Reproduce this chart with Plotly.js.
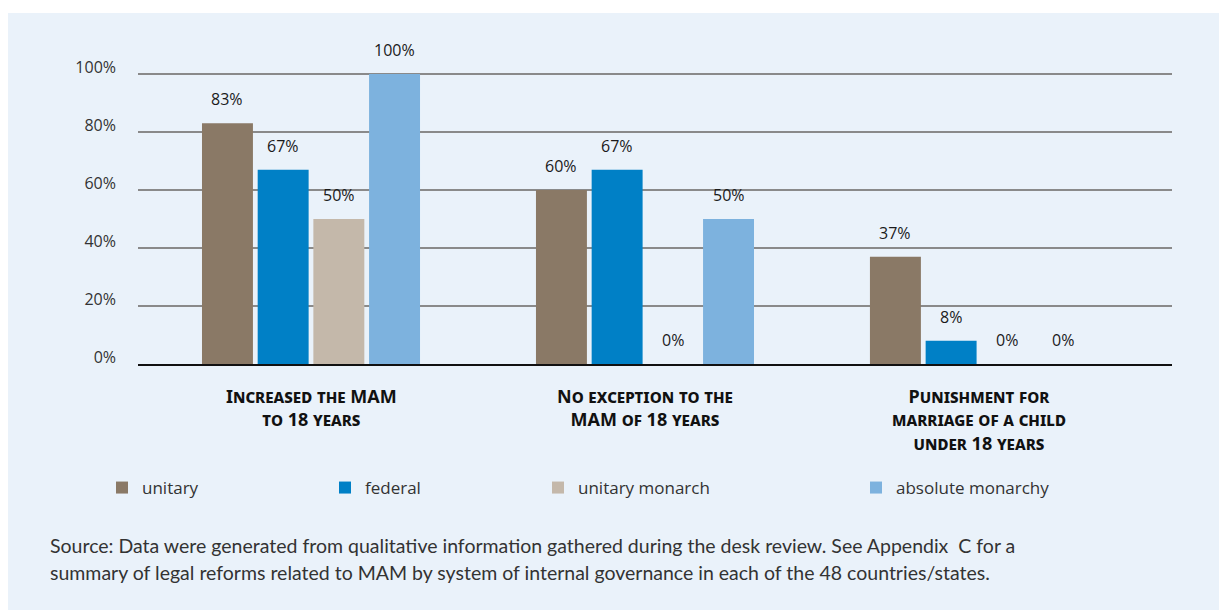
<!DOCTYPE html>
<html>
<head>
<meta charset="utf-8">
<script src="https://cdn.plot.ly/plotly-3.0.1.min.js"></script>
<style>
  html, body { margin: 0; padding: 0; background: #ffffff; }
  #chart { position: absolute; left: 8px; top: 13px; width: 1211px; height: 597px; }
</style>
</head>
<body>
<div id="chart"></div>
<script>
const categories = [
  'Increased the MAM<br>to 18 years',
  'No exception to the<br>MAM of 18 years',
  'Punishment for<br>marriage of a child<br>under 18 years'
];
const seriesNames = ['unitary', 'federal', 'unitary monarch', 'absolute monarchy'];
const unitary = [83, 60, 37];
const federal = [67, 67, 8];
const unitaryMonarch = [50, 0, 0];
const absoluteMonarchy = [100, 50, 0];
const yTickValues = [0, 20, 40, 60, 80, 100];
const yTickLabels = ['0%', '20%', '40%', '60%', '80%', '100%'];
const sourceLines = [
  'Source: Data were generated from qualitative information gathered during the desk review. See Appendix\u00A0 C for a',
  'summary of legal reforms related to MAM by system of internal governance in each of the 48 countries/states.'
];

const seriesValues = [unitary, federal, unitaryMonarch, absoluteMonarchy];
const colors = ['#8a7966', '#0080c6', '#c4b8aa', '#7db2de'];
const legendIds = ['legend', 'legend2', 'legend3', 'legend4'];
const legendX = [94, 317, 530, 848];
const W = 1211, H = 597;
const M = { l: 130, r: 47, t: 58, b: 246 };
const plotH = H - M.t - M.b;

const bargap = 0.333;
const nSeries = seriesValues.length;
const slot = (1 - bargap) / nSeries;

const traces = seriesValues.map((vals, j) => ({
  type: 'bar',
  name: seriesNames[j],
  x: categories,
  y: vals,
  marker: { color: colors[j], line: { width: 0 } },
  legend: legendIds[j],
  hoverinfo: 'skip'
}));

const annotations = [];
seriesValues.forEach((vals, j) => {
  vals.forEach((v, i) => {
    annotations.push({
      x: i + (j - (nSeries - 1) / 2) * slot,
      y: v,
      xref: 'x', yref: 'y',
      text: v + '%',
      showarrow: false,
      yshift: 24,
      font: { family: 'Open Sans', size: 16, color: '#1a1a1a' }
    });
  });
});
// category labels under the axis
const catFontSize = 18;
const catLine = 1.3 * catFontSize;
categories.forEach((c, i) => {
  const n = c.split('<br>').length;
  const centerY = (396 - 13) + (n - 1) * catLine / 2;
  annotations.push({
    x: i, xref: 'x',
    y: 0, yref: 'paper',
    yanchor: 'middle',
    yshift: -(centerY - (H - M.b)),
    text: c, showarrow: false, align: 'center',
    font: { family: 'Noto Sans', size: catFontSize, weight: 'bold', variant: 'small-caps', color: '#111111' }
  });
});
sourceLines.forEach((t, k) => {
  annotations.push({
    xref: 'paper', yref: 'paper',
    x: (40 - M.l) / (W - M.l - M.r),
    y: 1 - ((532 + 27 * k) - M.t) / plotH,
    xanchor: 'left', yanchor: 'middle',
    text: t, showarrow: false, align: 'left',
    font: { family: 'Lato', size: 19.5, color: '#333333' }
  });
});

const legendFont = { family: 'Open Sans', size: 17, color: '#333333' };
const layout = {
  width: W, height: H,
  paper_bgcolor: '#eaf2fa',
  plot_bgcolor: 'rgba(0,0,0,0)',
  margin: M,
  barmode: 'group',
  bargap: bargap,
  bargroupgap: 0.085,
  xaxis: {
    type: 'category',
    range: [-0.518, 2.578],
    showgrid: false,
    showline: true, linecolor: '#111111', linewidth: 2,
    ticks: '',
    showticklabels: false,
    fixedrange: true
  },
  yaxis: {
    range: [0, 101],
    tickvals: yTickValues,
    ticktext: yTickLabels,
    showgrid: true, gridcolor: '#8a8a8a', gridwidth: 1.5,
    zeroline: false,
    showline: false,
    ticks: '',
    ticklabelstandoff: 21,
    ticklabelshift: -7,
    tickfont: { family: 'Open Sans', size: 16, color: '#333333' },
    fixedrange: true
  },
  showlegend: true,
  annotations: annotations
};
legendIds.forEach((id, j) => {
  layout[id] = {
    orientation: 'h',
    xref: 'container', yref: 'container',
    x: legendX[j] / W, xanchor: 'left',
    y: 1 - 475 / H, yanchor: 'middle',
    bgcolor: 'rgba(0,0,0,0)',
    font: legendFont,
    itemclick: false, itemdoubleclick: false
  };
});

Plotly.newPlot('chart', traces, layout, { displayModeBar: false, staticPlot: true });
</script>
</body>
</html>
